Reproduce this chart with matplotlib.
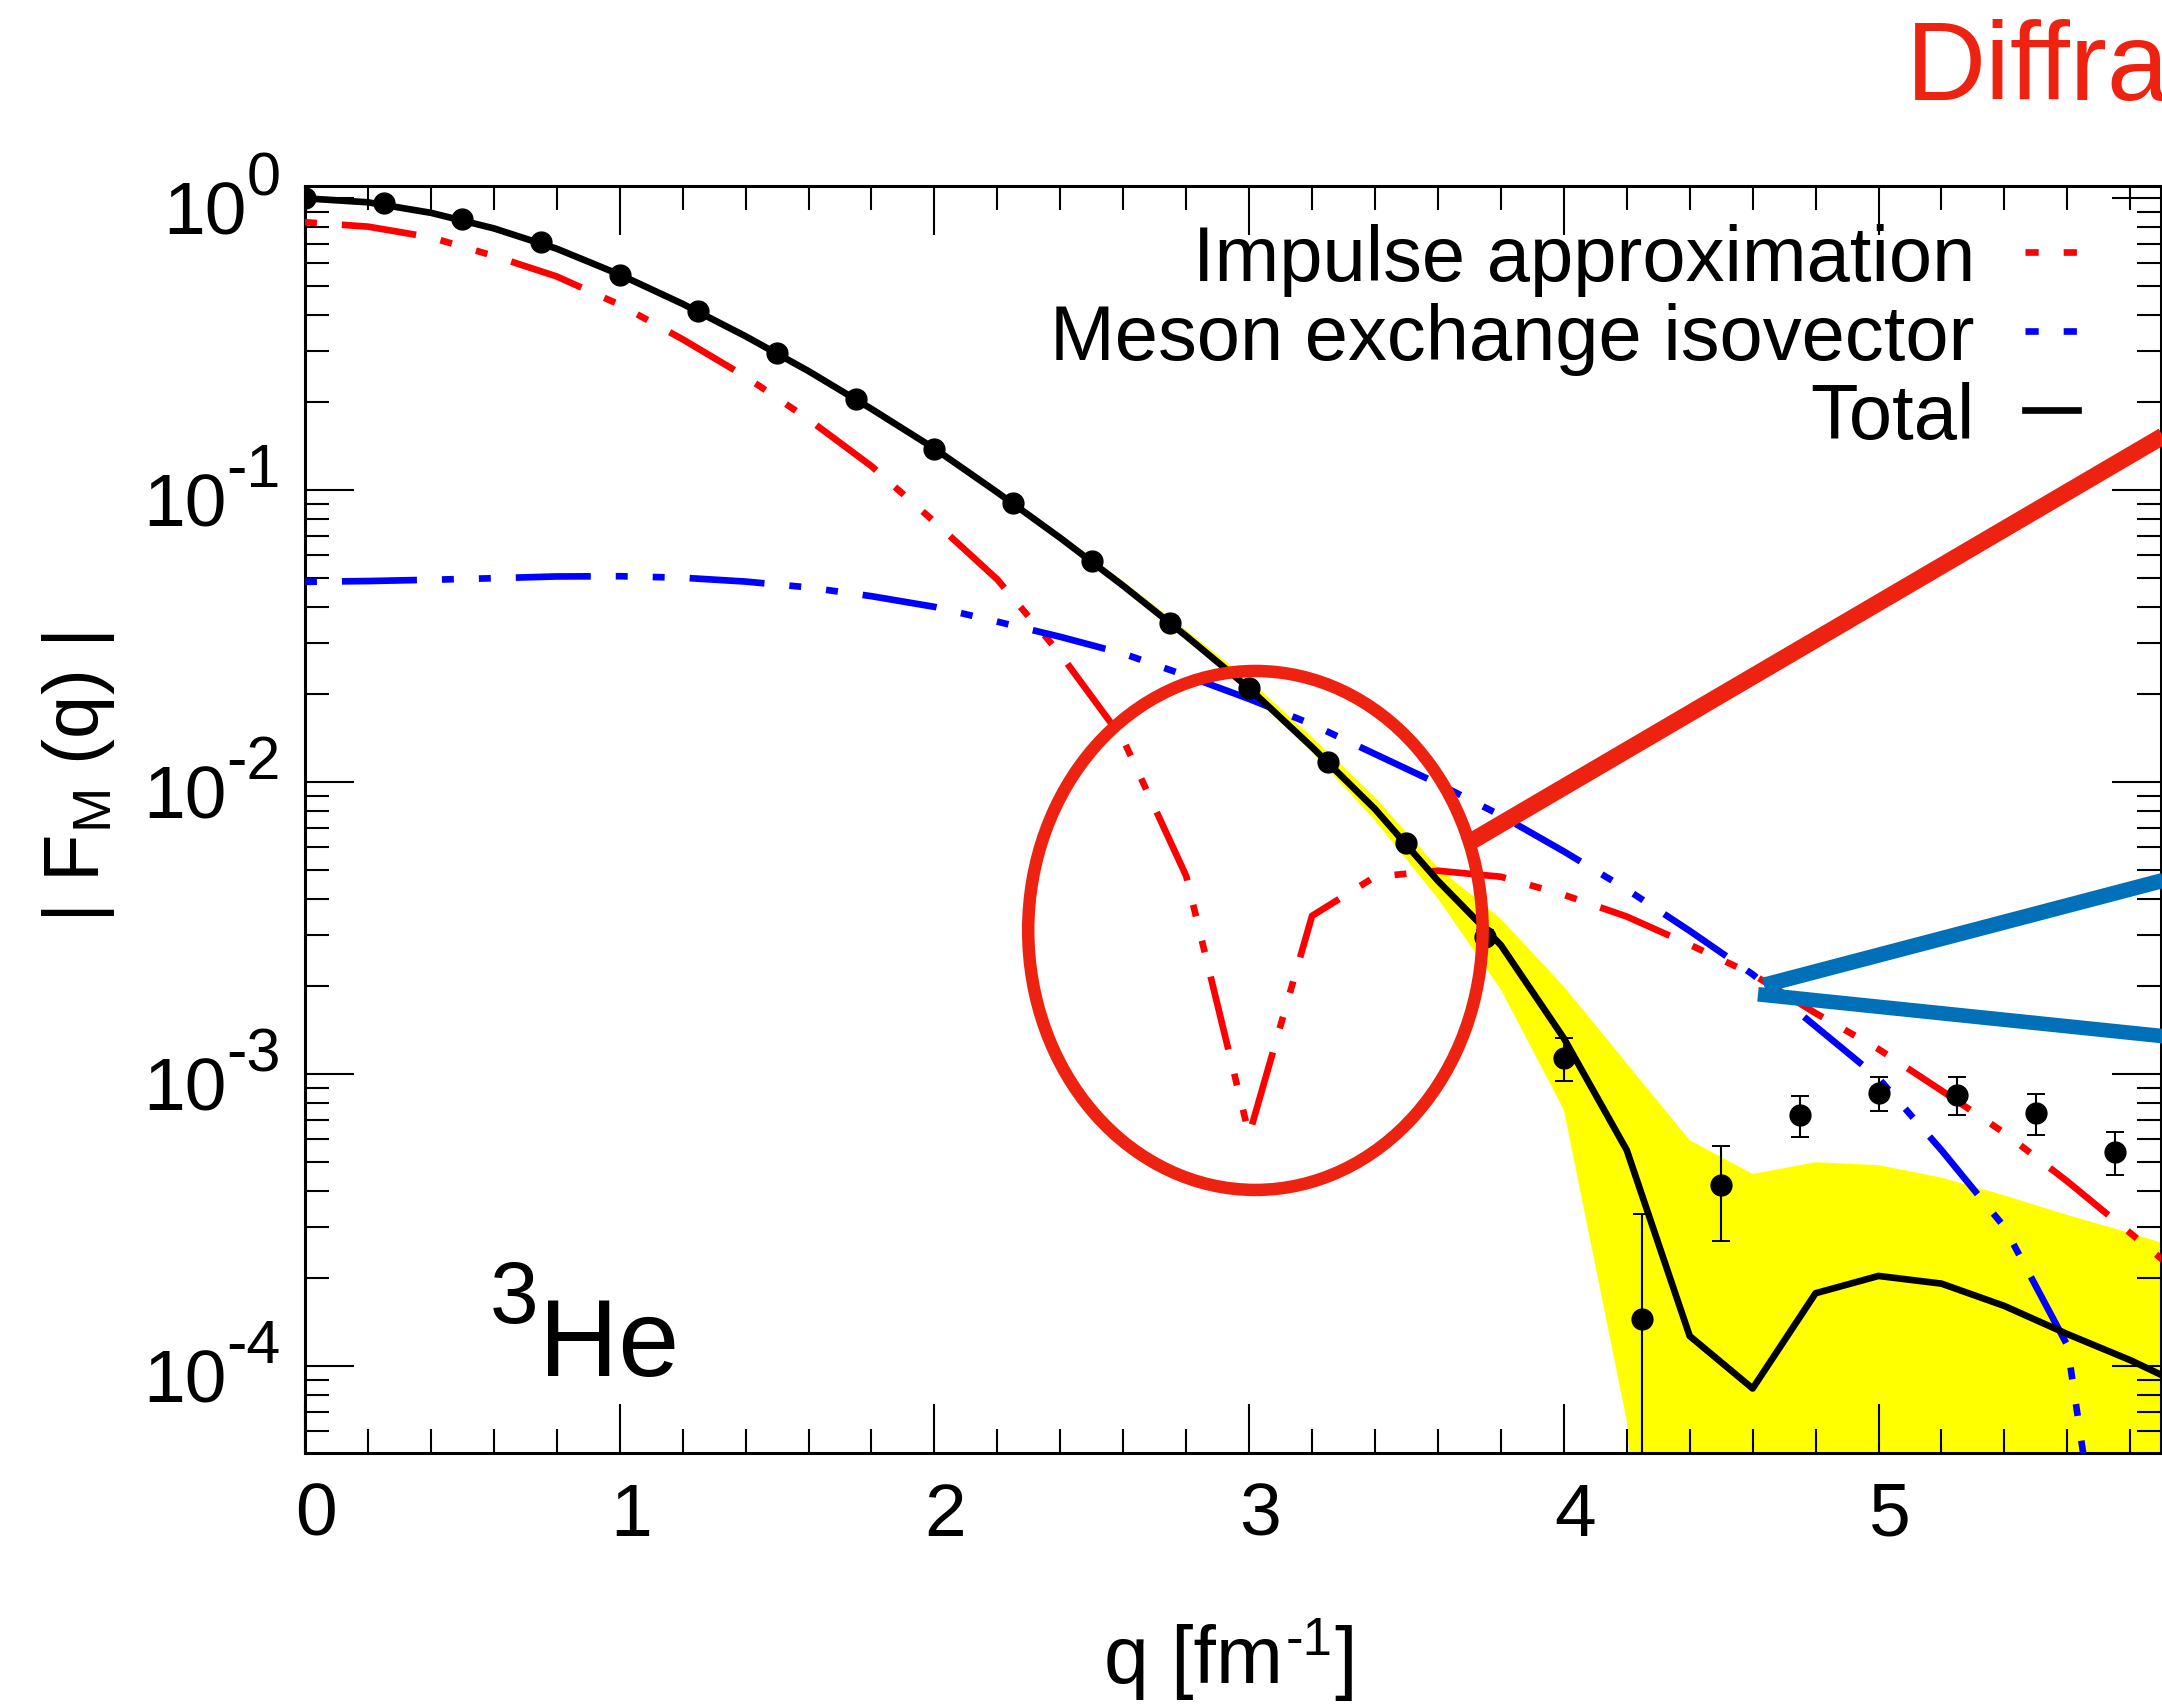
import numpy as np
import matplotlib
matplotlib.use("Agg")
import matplotlib.pyplot as plt
from matplotlib.lines import Line2D
from matplotlib.patches import Ellipse
from matplotlib.ticker import LogLocator, MultipleLocator, NullFormatter
from matplotlib.transforms import ScaledTranslation

plt.rcParams["font.family"] = ["Liberation Sans", "DejaVu Sans"]
plt.rcParams["mathtext.fontset"] = "custom"
plt.rcParams["mathtext.rm"] = "Liberation Sans"
plt.rcParams["mathtext.it"] = "Liberation Sans:italic"
plt.rcParams["mathtext.bf"] = "Liberation Sans:bold"
plt.rcParams["lines.scale_dashes"] = False

# --- measured |F_M(q)| of 3He -------------------------------------------
q_data = [0.0, 0.25, 0.5, 0.75, 1.0, 1.25, 1.5, 1.75, 2.0, 2.25, 2.5, 2.75,
          3.0, 3.25, 3.5, 3.75, 4.0, 4.25, 4.5, 4.75, 5.0, 5.25, 5.5, 5.75]
F_data = [1.0, 0.961, 0.849, 0.707, 0.547, 0.410, 0.296, 0.2055, 0.1384,
          0.0903, 0.0573, 0.0351, 0.0210, 0.01177, 0.00618, 0.00295,
          0.00114, 1.45e-4, 4.18e-4, 7.27e-4, 8.63e-4, 8.51e-4, 7.37e-4,
          5.43e-4]
F_err = [0, 0, 0, 0, 0, 0, 0, 0, 0, 0, 0, 0, 0, 0, 0, 1.6e-4, 1.9e-4,
         1.87e-4, 1.49e-4, 1.17e-4, 1.16e-4, 1.25e-4, 1.18e-4, 0.92e-4]

# --- theory on a 0.2 fm^-1 grid -----------------------------------------
q_theo = [0.0, 0.2, 0.4, 0.6, 0.8, 1.0, 1.2, 1.4, 1.6, 1.8, 2.0, 2.2, 2.4,
          2.6, 2.8, 3.0, 3.2, 3.4, 3.6, 3.8, 4.0, 4.2, 4.4, 4.6, 4.8, 5.0,
          5.2, 5.4, 5.6, 5.8, 6.0]
F_impulse = [0.828, 0.80, 0.735, 0.635, 0.54, 0.432, 0.329, 0.245, 0.175,
             0.121, 0.078, 0.0495, 0.0275, 0.0140, 4.78e-3, 6.2e-4, 3.49e-3,
             4.75e-3, 4.98e-3, 4.75e-3, 4.12e-3, 3.47e-3, 2.78e-3, 2.2e-3,
             1.62e-3, 1.22e-3, 8.8e-4, 6.3e-4, 4.3e-4, 2.86e-4, 1.9e-4]
F_meson = [0.0486, 0.0489, 0.0494, 0.0500, 0.0507, 0.0508, 0.0502, 0.0487,
           0.0465, 0.0434, 0.0399, 0.0355, 0.0315, 0.0276, 0.0232, 0.0193,
           0.0158, 0.0125, 0.0099, 0.0077, 0.0058, 0.0043, 0.0031, 0.0022,
           0.00146, 9.7e-4, 5.5e-4, 3.0e-4, 1.18e-4, 4e-6, 1e-7]
F_total = [1.0, 0.969, 0.892, 0.789, 0.672, 0.548, 0.435, 0.337, 0.256,
           0.190, 0.139, 0.0984, 0.0687, 0.0471, 0.0317, 0.0210, 0.0132,
           0.0081, 0.0046, 0.00277, 0.00133, 5.5e-4, 1.27e-4, 8.4e-5,
           1.78e-4, 2.04e-4, 1.92e-4, 1.61e-4, 1.29e-4, 1.05e-4, 8.3e-5]
band_upper = [1.02, 0.99, 0.91, 0.805, 0.686, 0.56, 0.445, 0.345, 0.262,
              0.195, 0.1425, 0.101, 0.0707, 0.0488, 0.0332, 0.0224, 0.0143,
              0.0089, 0.0051, 0.00341, 0.00200, 0.00109, 5.95e-4, 4.56e-4,
              5.0e-4, 4.89e-4, 4.43e-4, 3.85e-4, 3.30e-4, 2.86e-4, 2.45e-4]
band_lower = [0.98, 0.95, 0.875, 0.775, 0.66, 0.538, 0.427, 0.330, 0.250,
              0.186, 0.136, 0.0963, 0.0672, 0.0460, 0.0308, 0.0203, 0.0127,
              0.0074, 0.0040, 0.00195, 7.56e-4, 6.5e-5, 1e-7, 1e-7, 1e-7,
              1e-7, 1e-7, 1e-7, 1e-7, 1e-7, 1e-7]

labels = ["Impulse approximation", "Meson exchange isovector", "Total"]
x_ticks = [0, 1, 2, 3, 4, 5]
decades = [0, -1, -2, -3, -4]

# --- highlight marks (data coordinates) ---------------------------------
ring_center = (3.02, 3.11e-3)
red_bar_q = [3.686, 6.5]
red_bar_F = [6.1e-3, 0.365]
blue_up_q = [4.636, 6.5]
blue_up_F = [2.02e-3, 6.8e-3]
blue_lo_q = [4.617, 6.5]
blue_lo_F = [1.88e-3, 1.16e-3]

HL_RED = "#ee2211"
HL_BLUE = "#0071b8"

W, H = 2162, 1706
fig = plt.figure(figsize=(W / 100, H / 100), dpi=100)
ax = fig.add_axes([305 / W, 1 - 1454 / H, (2160.5 - 305) / W, (1454 - 187) / H])
ax.set_yscale("log")
ax.set_xlim(0, 5.896)
ax.set_ylim(5.05e-5, 1.102)

# ROOT-like dash-dot-dot pattern, starting on a short dash
dash_seq = (54, 18, 8.6, 18, 8.6, 18)
dash_style = (98.6, dash_seq)
lw = 4.8

ax.fill_between(q_theo, band_lower, band_upper, color="#ffff00", lw=0, zorder=1)
ax.plot(q_theo, F_impulse, color="#ff0000", lw=lw, linestyle=dash_style, zorder=3)
ax.plot(q_theo, F_meson, color="#0000ff", lw=lw, linestyle=dash_style, zorder=3)
ax.plot(q_theo, F_total, color="black", lw=lw, zorder=4)

q_arr = np.array(q_data)
F_arr = np.array(F_data)
e_arr = np.array(F_err)
has_err = e_arr > 0
ax.errorbar(q_arr[has_err], F_arr[has_err], yerr=e_arr[has_err], fmt="none",
            ecolor="black", elinewidth=1.5, capsize=6.8, capthick=1.4, zorder=5)
ax.plot(q_arr, F_arr, "o", color="black", ms=15, zorder=6)

# axes, ticks
for sp in ax.spines.values():
    sp.set_linewidth(2.2)
ax.xaxis.set_major_locator(MultipleLocator(1))
ax.xaxis.set_minor_locator(MultipleLocator(0.2))
ax.set_xticks(x_ticks)
ax.set_xticklabels([str(t) for t in x_ticks])
ax.yaxis.set_major_locator(LogLocator(base=10, numticks=20))
ax.yaxis.set_minor_locator(LogLocator(base=10, subs=np.arange(2, 10), numticks=20))
ax.yaxis.set_major_formatter(NullFormatter())
ax.yaxis.set_minor_formatter(NullFormatter())
ax.tick_params(which="both", direction="in", top=True, right=True, width=1.5,
               color="black")
ax.tick_params(which="major", length=35)
ax.tick_params(which="minor", length=17.5)
ax.tick_params(axis="x", which="major", labelsize=54, pad=20)

shift = ScaledTranslation(0.11, 0, fig.dpi_scale_trans)
for lbl in ax.get_xticklabels():
    lbl.set_transform(lbl.get_transform() + shift)

# decade labels: "10" with a raised exponent
for e in decades:
    exp_txt = ax.annotate(str(e), xy=(0, 10.0 ** e),
                          xycoords=("axes fraction", "data"),
                          xytext=(-17.3, 3.1), textcoords="offset points",
                          ha="right", va="baseline", fontsize=44,
                          annotation_clip=False)
    ax.annotate("10", xy=(0, 0), xycoords=exp_txt, xytext=(0, -19),
                textcoords="offset points", ha="right", va="baseline",
                fontsize=54, annotation_clip=False)

# legend
handles = [Line2D([], [], color="#ff0000", lw=lw, linestyle=(0, (9.5, 18))),
           Line2D([], [], color="#0000ff", lw=lw, linestyle=(0, (9.5, 18))),
           Line2D([], [], color="black", lw=lw)]
ax.legend(handles, labels, loc="upper right", bbox_to_anchor=(0.9553, 0.9711),
          frameon=False, markerfirst=False, fontsize=56, handlelength=0.68,
          handletextpad=0.64, labelspacing=0.077, borderpad=0, borderaxespad=0)

# nucleus label
ax.text(0.1261, 0.0616, "He", transform=ax.transAxes, fontsize=79,
        ha="left", va="baseline")
ax.text(0.0994, 0.1034, "3", transform=ax.transAxes, fontsize=63,
        ha="left", va="baseline")

# x title: q [fm^-1] built from pieces so the exponent keeps a plain hyphen
xt = fig.text(0.5106, 0.01348, "q [fm", ha="left", va="baseline", fontsize=58)
xe = ax.annotate("-1", xy=(1, 0), xycoords=xt, xytext=(2, 32.5),
                 textcoords="offset points", ha="left", va="baseline",
                 fontsize=38, annotation_clip=False)
ax.annotate("]", xy=(1, 0), xycoords=xe, xytext=(1, -13.2),
            textcoords="offset points", ha="left", va="baseline",
            fontsize=58, annotation_clip=False)

# y title
fig.text(0.0365, 0.544, r"| F$_{\mathregular{M}}$ (q) |", rotation=90,
         ha="center", va="center", fontsize=56)

# highlight overlay
c_ax = ax.transAxes.inverted().transform(ax.transData.transform(ring_center))
ax.add_patch(Ellipse(c_ax, 0.2449, 0.4096, transform=ax.transAxes, fill=False,
                     ec=HL_RED, lw=9, zorder=10, clip_on=False))
ax.plot(red_bar_q, red_bar_F, color=HL_RED, lw=12.2, solid_capstyle="butt",
        clip_on=False, zorder=10)
ax.plot(blue_up_q, blue_up_F, color=HL_BLUE, lw=11, solid_capstyle="butt",
        clip_on=False, zorder=10)
ax.plot(blue_lo_q, blue_lo_F, color=HL_BLUE, lw=10.5, solid_capstyle="butt",
        clip_on=False, zorder=10)

fig.text(0.8816, 0.9414, "Diffraction", color=HL_RED, fontsize=80,
         ha="left", va="baseline")

fig.savefig("out.png", dpi=100)
